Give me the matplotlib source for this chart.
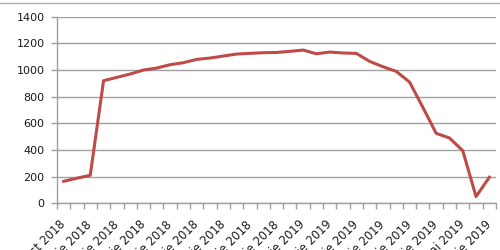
import matplotlib
matplotlib.use('Agg')
import matplotlib.pyplot as plt
import numpy as np

# categories (weekly-ish dates, Romanian)
dates = [
    '27 august 2018', '3 septembrie 2018', '10 septembrie 2018', '17 septembrie 2018',
    '24 septembrie 2018', '1 octombrie 2018', '8 octombrie 2018', '15 octombrie 2018',
    '22 octombrie 2018', '29 octombrie 2018', '5 noiembrie 2018', '12 noiembrie 2018',
    '19 noiembrie 2018', '26 noiembrie 2018', '3 decembrie 2018', '10 decembrie 2018',
    '17 decembrie 2018', '7 ianuarie 2019', '14 ianuarie 2019', '28 ianuarie 2019',
    '11 februarie 2019', '25 februarie 2019', '11 martie 2019', '25 martie 2019',
    '1 aprilie 2019', '8 aprilie 2019', '15 aprilie 2019', '22 aprilie 2019',
    '29 aprilie 2019', '6 mai 2019', '13 mai 2019', '27 mai 2019', '10 iunie 2019',
]
values = [
    165, 188, 210, 920, 945, 970, 1000, 1015, 1040, 1055, 1080, 1090,
    1105, 1120, 1125, 1130, 1132, 1140, 1150, 1122, 1135, 1128, 1125, 1065,
    1025, 990, 910, 720, 525, 490, 395, 50, 195,
]
yticks = [0, 200, 400, 600, 800, 1000, 1200, 1400]

plt.rcParams['font.family'] = ['DejaVu Sans']

fig = plt.figure(figsize=(5, 2.5), dpi=100)
ax = fig.add_axes([0.114, 0.187, 0.878, 0.746])

x = np.arange(len(values))
ax.plot(x, values, color='#BE4B48', lw=2.2, solid_joinstyle='round')

ax.set_xlim(-0.5, len(values) - 0.5)
ax.set_ylim(0, 1400)
ax.set_yticks(yticks)
ax.set_yticklabels([str(v) for v in yticks], fontsize=8, color='#1a1a1a')
ax.yaxis.grid(True, color='#A0A0A0', lw=1)
ax.set_axisbelow(True)

# labels on every second category, tick marks between categories
ax.set_xticks(x[::2])
ax.set_xticklabels([dates[i] for i in x[::2]], rotation=45, ha='right',
                   va='center', rotation_mode='anchor', fontsize=8.3, color='#1a1a1a')
ax.tick_params(axis='x', which='major', length=0, pad=14)
ax.set_xticks(np.arange(-0.5, len(values), 1), minor=True)
ax.tick_params(axis='x', which='minor', length=4, color='#A0A0A0', width=1)
ax.tick_params(axis='y', length=4, color='#A0A0A0', width=1, pad=5)

for s in ['top', 'right']:
    ax.spines[s].set_visible(False)
for s in ['left', 'bottom']:
    ax.spines[s].set_color('#A0A0A0')
    ax.spines[s].set_linewidth(1)

# outer chart border at the top
fig.add_artist(plt.Line2D([0, 1], [0.99, 0.99], color='#B0B0B0', lw=1))

fig.savefig('out.png', dpi=100)
